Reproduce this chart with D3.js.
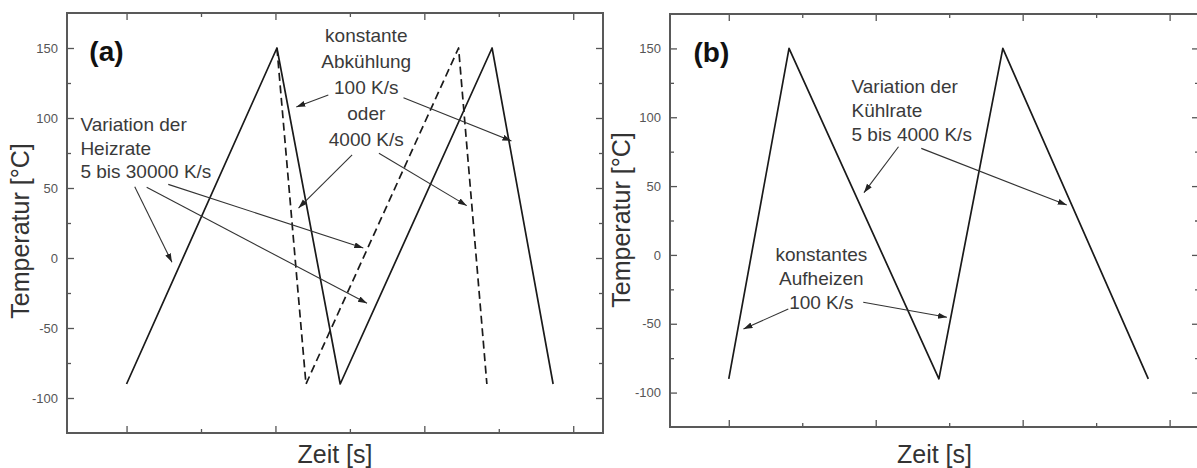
<!DOCTYPE html>
<html>
<head>
<meta charset="utf-8">
<script src="https://cdn.jsdelivr.net/npm/d3@7"></script>
<style>
  body { margin: 0; background: #fff; }
  svg { display: block; }
  text { font-family: "Liberation Sans", Arial, sans-serif; }
</style>
</head>
<body>
<div id="chart"></div>
<script>
// ---- data ----
const tempTicks = [-100, -50, 0, 50, 100, 150];
const tempMinorTicks = [-75, -25, 25, 75, 125];
const timeTicks = [0, 2, 4, 6];
const timeMinorTicks = [1, 3, 5];

// (a) variable heating, constant cooling
const aSolidTime = [0, 2.02, 2.87, 4.91, 5.73];
const aSolidTemp = [-90, 150, -90, 150, -90];
const aDashedTime = [2.02, 2.41, 4.46, 4.84];
const aDashedTemp = [150, -90, 150, -90];

// (b) constant heating, variable cooling
const bSolidTime = [0, 0.82, 2.86, 3.73, 5.71];
const bSolidTemp = [-90, 150, -90, 150, -90];

const width = 1197, height = 468;
const timeDomain = [-0.8, 6.4];
const tempDomain = [-125, 175];

const svg = d3.select('#chart').append('svg')
  .attr('width', width)
  .attr('height', height);

// arrow head
svg.append('defs').append('marker')
  .attr('id', 'arrow')
  .attr('markerUnits', 'userSpaceOnUse')
  .attr('markerWidth', 10).attr('markerHeight', 8)
  .attr('refX', 9).attr('refY', 3)
  .attr('orient', 'auto')
  .append('path')
  .attr('d', 'M0,0 L9,3 L0,6 Z')
  .attr('fill', '#222');

const panels = [
  {
    label: '(a)', labelPos: [-0.5, 141],
    left: 67, right: 603, top: 13, bottom: 433,
    yTitleX: 29, yTitleY: 231,
    series: [
      { time: aSolidTime, temp: aSolidTemp, dash: null },
      { time: aDashedTime, temp: aDashedTemp, dash: '8,4.5' }
    ],
    notes: [
      { lines: ['Variation der', 'Heizrate', '5 bis 30000 K/s'], at: [-0.62, 90.7], anchor: 'start', lh: 23.5 },
      { lines: ['konstante', 'Abkühlung', '100 K/s', 'oder', '4000 K/s'], at: [3.22, 154.5], anchor: 'middle', lh: 26 }
    ],
    arrows: [
      [0.11, 50.9, 0.61, -3.1],
      [0.27, 50.5, 3.23, -32.4],
      [0.56, 52.6, 3.18, 7.1],
      [2.71, 116.4, 2.28, 107.9],
      [3.72, 114.5, 5.17, 83.6],
      [3.03, 73.6, 2.31, 35.7],
      [3.39, 74.8, 4.57, 37.4]
    ]
  },
  {
    label: '(b)', labelPos: [-0.48, 140.4],
    left: 670, right: 1199, top: 14, bottom: 427,
    yTitleX: 630, yTitleY: 220,
    series: [
      { time: bSolidTime, temp: bSolidTemp, dash: null }
    ],
    notes: [
      { lines: ['Variation der', 'Kühlrate', '5 bis 4000 K/s'], at: [1.67, 117.9], anchor: 'start', lh: 24 },
      { lines: ['konstantes', 'Aufheizen', '100 K/s'], at: [1.26, -4.1], anchor: 'middle', lh: 24 }
    ],
    arrows: [
      [2.31, 78.6, 1.84, 45.2],
      [2.62, 77.4, 4.60, 36.2],
      [0.81, -39.3, 0.20, -53.8],
      [1.83, -34.4, 2.97, -45.3]
    ]
  }
];

const styleAxis = (sel) => {
  sel.select('.domain').remove();
  sel.selectAll('.tick line').attr('stroke', '#555').attr('stroke-width', 1.3);
  sel.selectAll('.tick text')
    .attr('fill', '#555')
    .style('font-size', '13px')
    .style('font-family', '"Liberation Sans", Arial, sans-serif');
};

panels.forEach(p => {
  const x = d3.scaleLinear().domain(timeDomain).range([p.left, p.right]);
  const y = d3.scaleLinear().domain(tempDomain).range([p.bottom, p.top]);
  const g = svg.append('g');

  // ticks, all pointing inward
  g.append('g').attr('transform', `translate(${p.left},0)`)
    .call(d3.axisLeft(y).tickValues(tempTicks).tickSizeInner(-7).tickSizeOuter(0).tickPadding(9)
      .tickFormat(d => String(d)))
    .call(styleAxis);
  g.append('g').attr('transform', `translate(${p.left},0)`)
    .call(d3.axisLeft(y).tickValues(tempMinorTicks).tickSizeInner(-4).tickSizeOuter(0).tickFormat(''))
    .call(styleAxis);
  g.append('g').attr('transform', `translate(${p.right},0)`)
    .call(d3.axisRight(y).tickValues(tempTicks).tickSizeInner(-7).tickSizeOuter(0).tickFormat(''))
    .call(styleAxis);
  g.append('g').attr('transform', `translate(${p.right},0)`)
    .call(d3.axisRight(y).tickValues(tempMinorTicks).tickSizeInner(-4).tickSizeOuter(0).tickFormat(''))
    .call(styleAxis);
  [[d3.axisBottom, p.bottom], [d3.axisTop, p.top]].forEach(([axis, pos]) => {
    g.append('g').attr('transform', `translate(0,${pos})`)
      .call(axis(x).tickValues(timeTicks).tickSizeInner(-7).tickSizeOuter(0).tickFormat(''))
      .call(styleAxis);
    g.append('g').attr('transform', `translate(0,${pos})`)
      .call(axis(x).tickValues(timeMinorTicks).tickSizeInner(-4).tickSizeOuter(0).tickFormat(''))
      .call(styleAxis);
  });

  // frame
  g.append('rect')
    .attr('x', p.left).attr('y', p.top)
    .attr('width', p.right - p.left).attr('height', p.bottom - p.top)
    .attr('fill', 'none')
    .attr('stroke', '#595959')
    .attr('stroke-width', 2);

  // temperature profiles
  const line = d3.line().x(d => x(d[0])).y(d => y(d[1]));
  p.series.forEach(s => {
    g.append('path')
      .datum(s.time.map((t, i) => [t, s.temp[i]]))
      .attr('d', line)
      .attr('fill', 'none')
      .attr('stroke', '#1a1a1a')
      .attr('stroke-width', 1.7)
      .attr('stroke-linejoin', 'round')
      .attr('stroke-dasharray', s.dash);
  });

  // annotations
  p.notes.forEach(n => {
    const t = g.append('text')
      .attr('x', x(n.at[0])).attr('y', y(n.at[1]))
      .attr('text-anchor', n.anchor)
      .attr('fill', '#3a3a3a')
      .style('font-size', '19px');
    n.lines.forEach((l, i) => {
      t.append('tspan').attr('x', x(n.at[0])).attr('dy', i === 0 ? 0 : n.lh).text(l);
    });
  });

  g.selectAll('line.arrow')
    .data(p.arrows)
    .enter()
    .append('line')
    .attr('class', 'arrow')
    .attr('x1', d => x(d[0])).attr('y1', d => y(d[1]))
    .attr('x2', d => x(d[2])).attr('y2', d => y(d[3]))
    .attr('stroke', '#333')
    .attr('stroke-width', 1.1)
    .attr('marker-end', 'url(#arrow)');

  // panel label
  g.append('text')
    .attr('x', x(p.labelPos[0])).attr('y', y(p.labelPos[1]))
    .attr('fill', '#111')
    .style('font-size', '28px')
    .style('font-weight', 'bold')
    .text(p.label);

  // axis titles
  g.append('text')
    .attr('transform', `translate(${p.yTitleX},${p.yTitleY}) rotate(-90)`)
    .attr('text-anchor', 'middle')
    .attr('fill', '#333')
    .style('font-size', '25px')
    .text('Temperatur [°C]');
  g.append('text')
    .attr('x', (p.left + p.right) / 2).attr('y', 463)
    .attr('text-anchor', 'middle')
    .attr('fill', '#333')
    .style('font-size', '25px')
    .text('Zeit [s]');
});
</script>
</body>
</html>
